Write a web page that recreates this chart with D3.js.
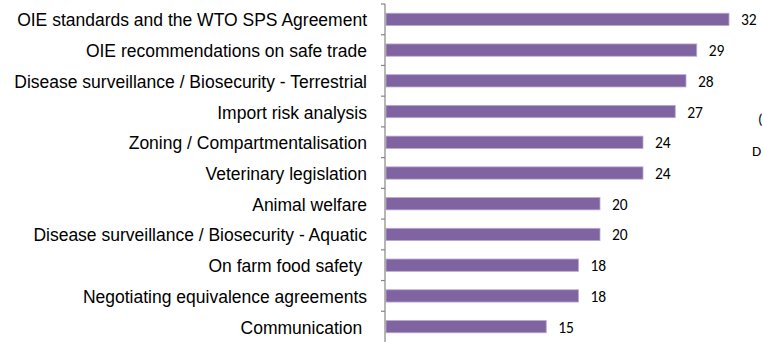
<!DOCTYPE html>
<html>
<head>
<meta charset="utf-8">
<script src="https://cdn.jsdelivr.net/npm/d3@7"></script>
<style>
  html, body { margin: 0; padding: 0; background: #fff; }
  svg { display: block; }
</style>
</head>
<body>
<div id="chart"></div>
<script>
// Topics and number of responses per topic
const topics = [
  "OIE standards and the WTO SPS Agreement",
  "OIE recommendations on safe trade",
  "Disease surveillance / Biosecurity - Terrestrial",
  "Import risk analysis",
  "Zoning / Compartmentalisation",
  "Veterinary legislation",
  "Animal welfare",
  "Disease surveillance / Biosecurity - Aquatic",
  "On farm food safety ",
  "Negotiating equivalence agreements",
  "Communication "
];
const responses = [32, 29, 28, 27, 24, 24, 20, 20, 18, 18, 15];
// Partially visible side notes at the right edge
const sideNotes = ["(", "D"];

const width = 763, height = 342;
const x0 = 385, y0 = 4, y1 = 342;

const svg = d3.select("#chart").append("svg")
  .attr("width", width).attr("height", height);

const x = d3.scaleLinear().domain([0, 1]).range([x0, x0 + 10.75]);
const y = d3.scaleBand().domain(topics).range([y0, y1]).paddingInner(0.6).paddingOuter(0.3);

// Bars
svg.append("g").selectAll("rect")
  .data(topics)
  .join("rect")
  .attr("x", x(0) + 1)
  .attr("y", d => y(d))
  .attr("width", (d, i) => x(responses[i]) - x(0) - 1)
  .attr("height", y.bandwidth())
  .attr("fill", "#8064A2")
  .attr("stroke", "#B9A9CF")
  .attr("stroke-width", 0.8);

// Value labels
svg.append("g").selectAll("text")
  .data(topics)
  .join("text")
  .attr("x", (d, i) => x(responses[i]) + 12)
  .attr("y", d => y(d) + y.bandwidth() / 2 + 6)
  .attr("font-family", "Carlito, Lato, 'Open Sans', sans-serif")
  .attr("font-size", 15.5)
  .attr("fill", "#000")
  .text((d, i) => responses[i]);

// Category axis: vertical line with ticks between categories
const step = (y1 - y0) / topics.length;
const bounds = d3.range(topics.length).map(i => y0 + i * step);
const ag = svg.append("g").attr("transform", `translate(${x0},0)`);
ag.selectAll("line.b").data(bounds).join("line").attr("class", "b")
  .attr("x1", -4).attr("x2", 0).attr("y1", d => d).attr("y2", d => d)
  .attr("stroke", "#868686").attr("stroke-width", 1.2);
ag.append("line").attr("x1", 0).attr("x2", 0).attr("y1", y0).attr("y2", y1)
  .attr("stroke", "#868686").attr("stroke-width", 1.2);

// Category labels
svg.append("g").selectAll("text")
  .data(topics)
  .join("text")
  .attr("x", 367)
  .attr("y", d => y(d) + y.bandwidth() / 2 + 7)
  .attr("text-anchor", "end")
  .attr("font-family", "'Liberation Sans', Arial, sans-serif")
  .attr("font-size", 17.5)
  .attr("fill", "#000")
  .style("white-space", "pre")
  .text(d => d);

// Side notes at the right edge
svg.append("g").selectAll("text")
  .data(sideNotes)
  .join("text")
  .attr("x", (d, i) => i === 0 ? 758 : 752)
  .attr("y", (d, i) => 124 + i * 32)
  .attr("font-family", "Carlito, Lato, 'Open Sans', sans-serif")
  .attr("font-size", 15)
  .text(d => d);
</script>
</body>
</html>
